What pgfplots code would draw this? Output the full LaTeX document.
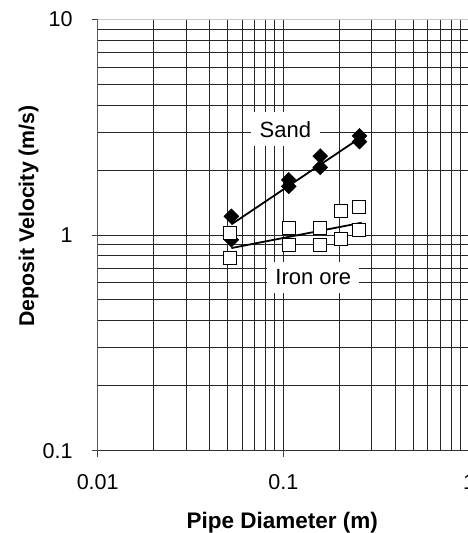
\documentclass[border=0pt]{standalone}
\usepackage{pgfplots}
\pgfplotsset{compat=1.18}
\usepackage{fontspec}
\setmainfont{Liberation Sans}

\begin{document}
\begin{tikzpicture}
\begin{axis}[
  at={(0,0)}, anchor=south west,
  scale only axis, width=371.3pt, height=431.4pt,
  xmode=log, ymode=log,
  xmin=0.01, xmax=1, ymin=0.1, ymax=10,
  xtick={0.01,0.1,1}, xticklabels={0.01,0.1,1},
  ytick={0.1,1,10}, yticklabels={0.1,1,10},
  grid=both,
  major grid style={black!85, line width=1pt},
  minor grid style={black!85, line width=1pt},
  tick pos=left,
  tick align=outside,
  major tick length=6pt,
  minor tick length=0pt,
  tick style={black!75, line width=1pt},
  axis line style={draw=none},
  /pgf/number format/assume math mode=true,
  ticklabel style={font=\fontsize{21.5}{25}\selectfont},
  xticklabel style={anchor=base, inner sep=0pt, yshift=-33pt},
  yticklabel style={anchor=east, inner sep=0pt, xshift=-19pt},
  xlabel={Pipe Diameter (m)},
  ylabel={Deposit Velocity (m/s)},
  xlabel style={at={(axis description cs:0.497,-0.1792)}, anchor=base, inner sep=0pt, font=\bfseries\fontsize{22.5}{26}\selectfont},
  ylabel style={at={(axis description cs:-0.171,0.544)}, anchor=base, inner sep=0pt, font=\bfseries\fontsize{21.3}{25}\selectfont},
  clip=false,
]
\draw[black!65, line width=1.6pt] (rel axis cs:0,0) -- (rel axis cs:0,1);
\draw[black!80, line width=1.2pt] (rel axis cs:0,0) -- (rel axis cs:1,0);
\draw[black!22, line width=1pt] (rel axis cs:0,1) -- (rel axis cs:1,1);

\node[fill=white, inner xsep=8.5pt, inner ysep=9pt, font=\fontsize{22}{26}\selectfont] at (axis cs:0.1025,3.09) {Sand};
\node[fill=white, inner xsep=8pt, inner ysep=8pt, font=\fontsize{22}{26}\selectfont] at (axis cs:0.145,0.637) {Iron ore};

% Sand fit line
\addplot[black, line width=1.8pt] coordinates {(0.0525,1.12) (0.264,2.85)};
% Iron ore fit line
\addplot[black, line width=1.8pt] coordinates {(0.0525,0.87) (0.264,1.14)};

% Sand data
\addplot[only marks, mark=square*, mark size=5.3pt,
  mark options={rotate=45, fill=black, draw=black}]
  coordinates {
  (0.0525,1.22) (0.0525,0.95)
  (0.107,1.80) (0.107,1.68)
  (0.158,2.32) (0.158,2.06)
  (0.257,2.88) (0.257,2.71)
  };
% Iron ore data
\addplot[only marks, mark=square*, mark size=6.5pt,
  mark options={fill=white, draw=black, line width=1pt}]
  coordinates {
  (0.0518,1.018) (0.0518,0.786)
  (0.107,1.081) (0.107,0.899)
  (0.158,1.081) (0.158,0.899)
  (0.205,1.296) (0.205,0.955)
  (0.257,1.348) (0.257,1.055)
  };
\end{axis}
\pgfresetboundingbox
\useasboundingbox (-97.7pt,-82.3pt) rectangle (370.3pt,450.7pt);
\end{tikzpicture}
\end{document}
